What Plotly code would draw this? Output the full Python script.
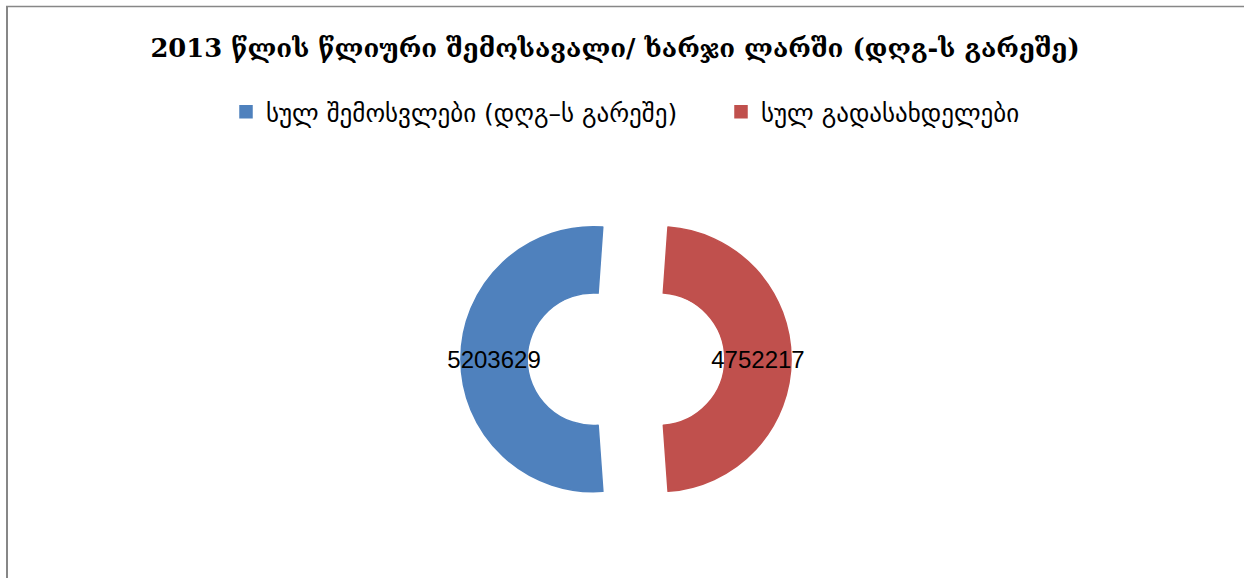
import plotly.graph_objects as go

title_text = "2013 წლის წლიური შემოსავალი/ ხარჯი ლარში (დღგ-ს გარეშე)"
categories = ["სულ შემოსვლები (დღგ–ს გარეშე)", "სულ გადასახდელები"]
values = [5203629, 4752217]
colors = ["#4F81BD", "#C0504D"]

W, H = 1244, 578

fig = go.Figure(go.Pie(
    labels=categories,
    values=values,
    hole=0.5,
    pull=[0.246, 0.246],
    sort=False,
    direction="clockwise",
    rotation=175.9,
    marker=dict(colors=colors, line=dict(width=1.5, color=colors)),
    textinfo="value",
    texttemplate="%{value:.0f}",
    textposition="inside",
    insidetextorientation="horizontal",
    textfont=dict(family="Liberation Sans", size=24, color="#000000"),
    domain=dict(x=[(626 - 200) / W, (626 + 200) / W], y=[1 - 524.3 / H, 1 - 194.1 / H]),
    hoverinfo="label+value",
))

fig.update_layout(
    width=W, height=H,
    margin=dict(l=0, r=0, t=0, b=0),
    paper_bgcolor="white",
    plot_bgcolor="white",
    title=dict(text=title_text, x=615 / W, xanchor="center", y=1 - 48 / H, yanchor="middle",
               font=dict(family="DejaVu Serif", size=25.8, color="#000000", weight="bold")),
    uniformtext=dict(minsize=24, mode="show"),
    showlegend=True,
    legend=dict(orientation="h", x=226 / W, xanchor="left", y=1 - 112 / H, yanchor="middle",
                font=dict(family="DejaVu Sans", size=25, color="#000000"),
                traceorder="normal", entrywidth=450, bgcolor="rgba(0,0,0,0)"),
    shapes=[
        dict(type="line", xref="paper", yref="paper", x0=7 / W, x1=7 / W, y0=0, y1=1 - 6 / H,
             line=dict(color="#878787", width=2)),
        dict(type="line", xref="paper", yref="paper", x0=6 / W, x1=1, y0=1 - 6.5 / H, y1=1 - 6.5 / H,
             line=dict(color="#878787", width=1.3)),
    ],
)

fig.write_html("out.html", config={"displayModeBar": False},
               post_script="document.body.style.margin='0';")
